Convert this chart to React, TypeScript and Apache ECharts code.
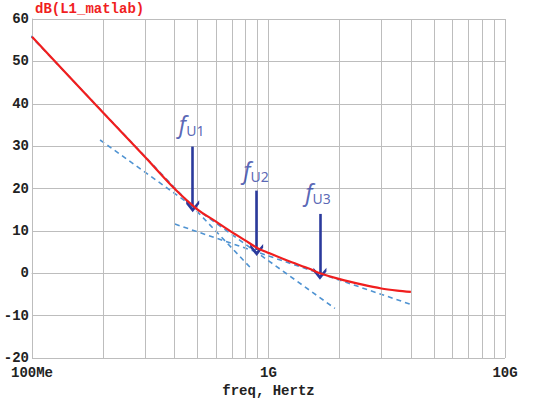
import React, { useEffect, useRef } from "react";
import * as echarts from "echarts";

// Measured curve dB(L1_matlab)
const freqHz = [1e8, 1.4e8, 2e8, 3e8, 4e8, 5e8, 6e8, 7e8, 8e8, 9e8, 1e9, 1.2e9, 1.5e9, 1.65e9, 2e9, 2.5e9, 3e9, 3.5e9, 4e9];
const magDb = [55.8, 47.1, 37.9, 27.5, 20.0, 15.1, 12.2, 9.7, 7.7, 5.9, 4.8, 3.0, 1.0, 0.0, -1.4, -2.7, -3.6, -4.1, -4.4];

// Dashed asymptotes: [freq, dB] endpoints
const asymptote1 = [[0.919e8, 57.8], [8.43e8, 1.2]];
const asymptote2 = [[1.94e8, 31.45], [1.91e9, -8.3]];
const asymptote3 = [[4.02e8, 11.6], [4.07e9, -7.5]];

// Arrows: freq, from dB, to dB
const arrowNames = ["U1", "U2", "U3"];
const arrowFreq = [4.78e8, 8.91e8, 1.65e9];
const arrowFrom = [29.9, 19.5, 14.0];
const arrowTo = [15.8, 5.5, -0.1];
const labelFreq = [4.73e8, 8.85e8, 1.62e9];
const labelDb = [35.4, 24.4, 19.25];

// Axis ticks
const yTicks = [-20, -10, 0, 10, 20, 30, 40, 50, 60];
const minorFreqs = [2e8, 3e8, 4e8, 5e8, 6e8, 7e8, 8e8, 9e8, 2e9, 3e9, 4e9, 5e9, 6e9, 7e9, 8e9, 9e9];
const xLabelMap: Record<number, string> = { 8: "100Me", 9: "1G", 10: "10G" };

const GRID = "#bdbdbd";
const RED = "#f01e1e";
const DASH = "#4f93d2";
const NAVY = "#2b3a9c";
const MONO = "'Liberation Mono', 'DejaVu Sans Mono', monospace";

export default function App() {
  const ref = useRef<HTMLDivElement>(null);
  useEffect(() => {
    if (!ref.current) return;
    const chart = echarts.init(ref.current, null, { renderer: "svg" });
    const chevron = "path://M5,0 L10,6.5 L10,9.5 L5,3.5 L0,9.5 L0,6.5 Z";
    const dashStyle = { color: DASH, width: 1.6, type: [5, 4] as any };
    chart.setOption({
      animation: false,
      backgroundColor: "#ffffff",
      title: {
        text: "dB(L1_matlab)",
        left: 35,
        top: 2,
        padding: 0,
        textStyle: { color: RED, fontFamily: MONO, fontWeight: "bold", fontSize: 14 },
      },
      grid: { left: 32, right: 45, top: 19, bottom: 50, containLabel: false },
      xAxis: {
        type: "log",
        logBase: 10,
        min: 1e8,
        max: 1e10,
        name: "freq, Hertz",
        nameLocation: "middle",
        nameGap: 22,
        nameTextStyle: { fontFamily: MONO, fontWeight: "bold", fontSize: 14, color: "#222" },
        axisLine: { show: true, lineStyle: { color: GRID, width: 1 } },
        axisTick: { show: false },
        axisLabel: {
          margin: 9,
          lineHeight: 11,
          fontFamily: MONO,
          fontWeight: "bold",
          fontSize: 14,
          color: "#222",
          formatter: (v: number) => xLabelMap[Math.round(Math.log10(v))] ?? "",
        },
        splitLine: { show: true, lineStyle: { color: GRID, width: 1 } },
      },
      yAxis: {
        type: "value",
        min: yTicks[0],
        max: yTicks[yTicks.length - 1],
        interval: 10,
        axisLine: { show: true, lineStyle: { color: GRID, width: 1 } },
        axisTick: { show: false },
        axisLabel: { margin: 3, lineHeight: 11, padding: [0, 0, 4, 0], fontFamily: MONO, fontWeight: "bold", fontSize: 14, color: "#222" },
        splitLine: { show: true, lineStyle: { color: GRID, width: 1 } },
      },
      series: [
        {
          type: "line",
          data: [],
          silent: true,
          markLine: {
            silent: true,
            symbol: ["none", "none"],
            label: { show: false },
            lineStyle: { color: GRID, width: 1, type: "solid" },
            data: minorFreqs.map((f) => ({ xAxis: f })),
          },
        },
        {
          type: "line",
          data: asymptote1,
          showSymbol: false,
          clip: false,
          lineStyle: dashStyle,
          itemStyle: { color: DASH },
          silent: true,
        },
        {
          type: "line",
          data: asymptote2,
          showSymbol: false,
          lineStyle: dashStyle,
          itemStyle: { color: DASH },
          silent: true,
        },
        {
          type: "line",
          data: asymptote3,
          showSymbol: false,
          lineStyle: dashStyle,
          itemStyle: { color: DASH },
          silent: true,
        },
        {
          type: "line",
          data: freqHz.map((f, i) => [f, magDb[i]]),
          showSymbol: false,
          smooth: 0.3,
          lineStyle: { color: RED, width: 2.2 },
          itemStyle: { color: RED },
          silent: true,
          z: 5,
        },
        {
          type: "line",
          data: [],
          silent: true,
          z: 6,
          markLine: {
            silent: true,
            symbol: ["none", chevron],
            symbolSize: [13, 12],
            label: { show: false },
            lineStyle: { color: NAVY, width: 2.6, type: "solid" },
            itemStyle: { color: NAVY },
            data: arrowFreq.map((f, i) => [
              { coord: [f, arrowFrom[i]] },
              { coord: [f, arrowTo[i]] },
            ]),
          },
        },
        {
          type: "scatter",
          symbolSize: 0,
          silent: true,
          z: 7,
          data: labelFreq.map((f, i) => [f, labelDb[i], arrowNames[i]]),
          label: {
            show: true,
            position: "inside",
            formatter: (p: any) => `{f|f}{s|${p.data[2]}}`,
            rich: {
              f: { fontFamily: "'Noto Sans', 'Open Sans', sans-serif", fontStyle: "italic", fontSize: 23, color: "#2f3fa3", verticalAlign: "bottom", lineHeight: 24 },
              s: { fontFamily: "'Noto Sans', 'Open Sans', sans-serif", fontSize: 14, color: "#2f3fa3", verticalAlign: "bottom", lineHeight: 24, padding: [0, 0, -2, 0] },
            },
          },
        },
      ],
    });
    return () => chart.dispose();
  }, []);
  return <div ref={ref} style={{ width: 550, height: 408, position: "absolute", left: 0, top: 0 }} />;
}
